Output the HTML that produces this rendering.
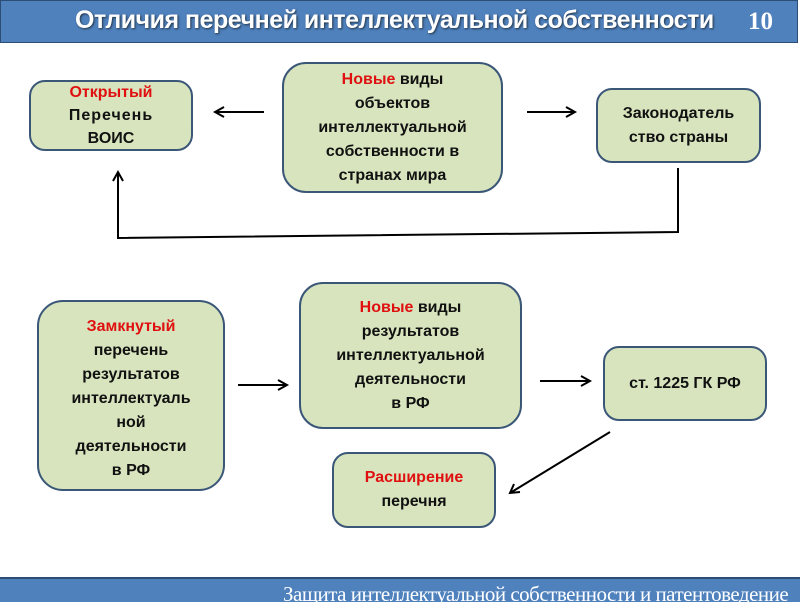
<!DOCTYPE html><html><head><meta charset="utf-8"><style>
body{margin:0;width:800px;height:600px;background:#fff;position:relative;overflow:hidden;font-family:"Liberation Sans",sans-serif}
.b{position:absolute;box-sizing:border-box;background:#d7e4bd;border:2px solid #3b5778;border-radius:16px;display:flex;align-items:center;justify-content:center;text-align:center;font-weight:bold;font-size:16px;line-height:24px;color:#111}
.r{color:#e01010}
</style></head><body>
<div style="position:absolute;left:0;top:0;width:798px;height:43px;background:#4f81bd;border:1px solid #2c4d75;box-sizing:border-box"></div>
<div style="position:absolute;left:75px;top:6px;font-size:25px;font-weight:bold;color:#fff;text-shadow:1px 1px 2px #234;letter-spacing:-0.5px;white-space:nowrap">Отличия перечней интеллектуальной собственности</div>
<div style="position:absolute;left:748px;top:8px;font-size:25px;color:#fff;font-family:'Liberation Serif',serif;font-weight:bold">10</div>
<div style="position:absolute;left:0;top:577px;width:800px;height:23px;background:#4f81bd;border-top:2px solid #2c4d75"></div>
<div style="position:absolute;left:283px;top:582px;font-size:21px;color:#fff;font-family:'Liberation Serif',serif;white-space:nowrap;letter-spacing:-0.5px">Защита интеллектуальной собственности и  патентоведение</div>

<div class="b" style="left:29px;top:80px;width:164px;height:71px;line-height:23px"><div><span class="r">Открытый</span><br><span style="letter-spacing:1px">Перечень</span><br>ВОИС</div></div>
<div class="b" style="left:282px;top:62px;width:221px;height:131px;border-radius:24px"><div><span class="r">Новые</span> виды<br>объектов<br>интеллектуальной<br>собственности в<br>странах мира</div></div>
<div class="b" style="left:596px;top:88px;width:165px;height:75px"><div>Законодатель<br>ство  страны</div></div>
<div class="b" style="left:37px;top:300px;width:188px;height:191px;border-radius:26px"><div style="margin-top:6px"><span class="r">Замкнутый</span><br>перечень<br>результатов<br>интеллектуаль<br>ной<br>деятельности<br>в  РФ</div></div>
<div class="b" style="left:299px;top:282px;width:223px;height:147px;border-radius:24px"><div><span class="r">Новые</span> виды<br>результатов<br>интеллектуальной<br>деятельности<br>в РФ</div></div>
<div class="b" style="left:603px;top:346px;width:164px;height:75px"><div>ст. 1225 ГК РФ</div></div>
<div class="b" style="left:332px;top:452px;width:164px;height:76px"><div><span class="r">Расширение</span><br>перечня</div></div>

<svg width="800" height="600" style="position:absolute;left:0;top:0" fill="none" stroke="#000" stroke-width="2">
<path d="M264 112H215M224 107L215 112 224 117"/>
<path d="M527 112H575M566 107L575 112 566 117"/>
<path d="M678 168V232L118 238V172M113 181L118 172 123 181"/>
<path d="M238 385H287M278 380L287 385 278 390"/>
<path d="M540 381H590M581 376L590 381 581 386"/>
<path d="M610 432L510 493M514 484L510 493 520 492"/>
</svg>
</body></html>
